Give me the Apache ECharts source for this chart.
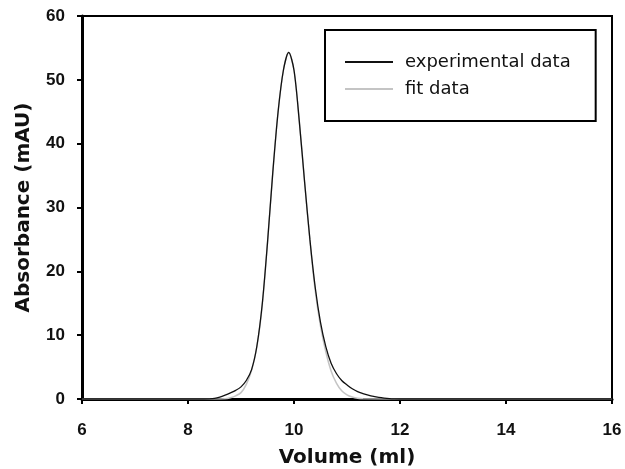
<!DOCTYPE html>
<html>
<head>
<meta charset="utf-8">
<script src="https://cdn.jsdelivr.net/npm/echarts@6/dist/echarts.min.js"></script>
<style>html,body{margin:0;padding:0;background:#fff;}#c{width:625px;height:469px;}</style>
</head>
<body>
<div id="c"></div>
<script>
var expX = [6, 7, 8, 8.3, 8.4, 8.5, 8.6, 8.7, 8.8, 8.9, 9.0, 9.1, 9.2, 9.3, 9.4, 9.5, 9.6, 9.7, 9.8, 9.9, 10.0, 10.1, 10.2, 10.3, 10.4, 10.5, 10.6, 10.7, 10.8, 10.9, 11.0, 11.1, 11.2, 11.3, 11.4, 11.5, 11.6, 11.7, 11.8, 11.9, 12, 13, 14, 15, 16];
var expY = [0, 0, 0, 0, 0.02, 0.1, 0.3, 0.6, 0.95, 1.35, 1.9, 2.9, 4.6, 8.3, 14.8, 24.5, 35.5, 45, 51.5, 54.3, 51.5, 43.5, 34, 25, 17.5, 12, 8.2, 5.6, 4.0, 2.9, 2.2, 1.6, 1.15, 0.85, 0.6, 0.4, 0.25, 0.14, 0.06, 0.02, 0, 0, 0, 0, 0];
var fitX = [6, 7, 8, 8.6, 8.7, 8.8, 8.9, 9.0, 9.1, 9.2, 9.3, 9.4, 9.5, 9.6, 9.7, 9.8, 9.9, 10.0, 10.1, 10.2, 10.3, 10.4, 10.5, 10.6, 10.7, 10.8, 10.9, 11.0, 11.1, 11.2, 11.3, 12, 13, 14, 15, 16];
var fitY = [0, 0, 0, 0, 0.02, 0.2, 0.5, 1.0, 2.3, 4.5, 8.2, 14.6, 24.5, 35.5, 45, 51.5, 54.3, 51.5, 43.5, 34, 24.8, 17, 11.4, 7.4, 4.4, 2.5, 1.3, 0.65, 0.3, 0.1, 0.02, 0, 0, 0, 0, 0];
var xTicks = [6, 8, 10, 12, 14, 16];
var yTicks = [0, 10, 20, 30, 40, 50, 60];
var seriesNames = ['experimental data', 'fit data'];

function pairs(xs, ys) { return xs.map(function (x, i) { return [x, ys[i]]; }); }

var chart = echarts.init(document.getElementById('c'), null, { renderer: 'canvas' });
var labelFont = { fontFamily: 'Liberation Sans, Arial, sans-serif', fontWeight: 'bold', fontSize: 17, color: '#111' };
var titleFont = { fontFamily: 'DejaVu Sans, sans-serif', fontWeight: 'bold', fontSize: 20, color: '#111' };
chart.setOption({
  animation: false,
  backgroundColor: '#fff',
  grid: { left: 82, right: 13, top: 16, bottom: 70, containLabel: false, outerBoundsMode: 'none', show: true, borderColor: '#000', borderWidth: 2, backgroundColor: 'transparent' },
  xAxis: {
    type: 'value', min: xTicks[0], max: xTicks[xTicks.length - 1], interval: 2,
    name: 'Volume (ml)', nameLocation: 'middle', nameGap: 49,
    nameTextStyle: titleFont,
    axisLine: { show: true, onZero: false, lineStyle: { color: '#000', width: 3 } },
    axisTick: { show: true, inside: false, length: 5, lineStyle: { color: '#000', width: 2 } },
    axisLabel: Object.assign({ margin: 23 }, labelFont),
    splitLine: { show: false }
  },
  yAxis: {
    type: 'value', min: yTicks[0], max: yTicks[yTicks.length - 1], interval: 10,
    name: 'Absorbance (mAU)', nameLocation: 'middle', nameGap: 48, nameRotate: 90,
    nameTextStyle: titleFont,
    axisLine: { show: true, onZero: false, lineStyle: { color: '#000', width: 3 } },
    axisTick: { show: true, inside: false, length: 5, lineStyle: { color: '#000', width: 2 } },
    axisLabel: Object.assign({ margin: 17 }, labelFont),
    splitLine: { show: false }
  },
  legend: {
    data: seriesNames,
    orient: 'vertical', left: 325, top: 30,
    padding: [23, 25, 23, 19],
    borderColor: '#000', borderWidth: 2, backgroundColor: '#fff',
    itemWidth: 48, itemHeight: 14, itemGap: 9,
    textStyle: { fontFamily: 'DejaVu Sans, sans-serif', fontSize: 18, color: '#111', lineHeight: 18, padding: [0, 0, 0, 7] },
    itemStyle: { opacity: 0 }
  },
  series: [
    {
      name: seriesNames[1], type: 'line', data: pairs(fitX, fitY), smooth: 0.3,
      symbol: 'none', lineStyle: { color: '#c4c4c4', width: 1.5 }, itemStyle: { color: '#c4c4c4' }, z: 2
    },
    {
      name: seriesNames[0], type: 'line', data: pairs(expX, expY), smooth: 0.3,
      symbol: 'none', lineStyle: { color: '#111', width: 1.3 }, itemStyle: { color: '#111' }, z: 3
    }
  ]
});
</script>
</body>
</html>
